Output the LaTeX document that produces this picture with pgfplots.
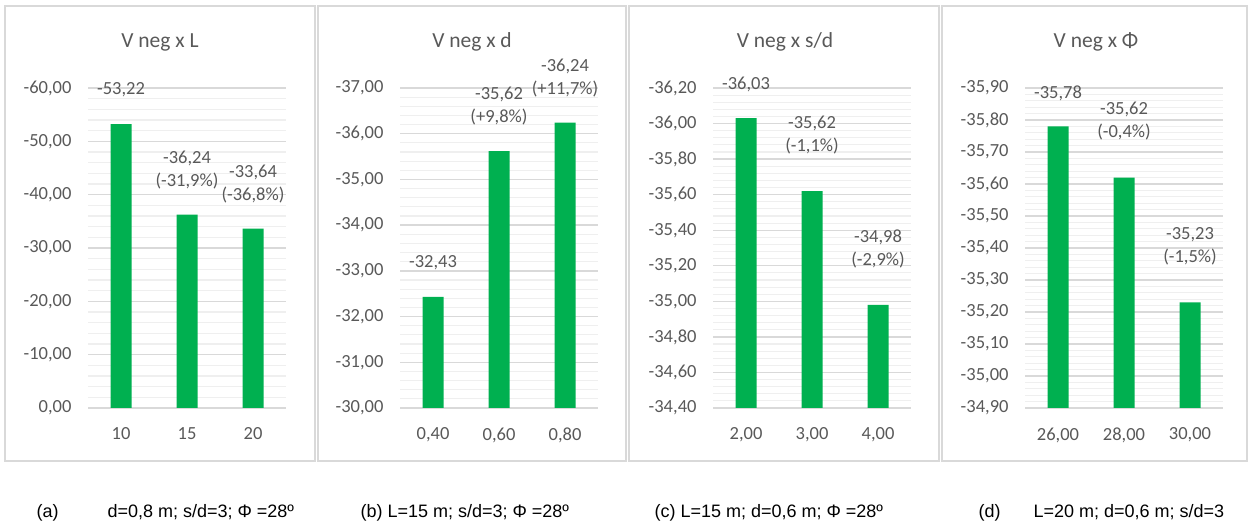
\documentclass[border=0pt]{standalone}
\usepackage{pgfplots}
\pgfplotsset{compat=1.18}
\usepackage{fontspec}
\setmainfont{Carlito}
\newfontfamily\arialfont{Liberation Sans}
\definecolor{bargreen}{HTML}{00B050}
\definecolor{txtgray}{HTML}{595959}
\definecolor{gmaj}{HTML}{D9D9D9}
\definecolor{gmin}{HTML}{EFEFEF}
\definecolor{framec}{HTML}{D9D9D9}
\newcommand{\lblfont}{\fontsize{18.5bp}{23bp}\selectfont}
\newcommand{\ttlfont}{\fontsize{21.5bp}{26bp}\selectfont}
\newcommand{\capfont}{\arialfont\fontsize{18bp}{22bp}\selectfont}
\pgfplotsset{panel/.style={
  scale only axis, width=198bp, height=320bp, anchor=south west,
  ybar, bar width=21bp, y dir=reverse,
  xmin=-0.5, xmax=2.5, xtick={0,1,2},
  axis line style={draw=none}, tick style={draw=none},
  ymajorgrids, yminorgrids, minor y tick num=4,
  major grid style={draw=gmaj, line width=1.3bp},
  minor grid style={draw=gmin, line width=1.1bp},
  clip mode=individual,
  tick label style={font=\lblfont, text=txtgray},
  yticklabel style={/pgf/number format/fixed, /pgf/number format/fixed zerofill,
    /pgf/number format/precision=2, /pgf/number format/use comma,
    /pgf/number format/assume math mode=true, xshift=-13bp},
  xticklabel style={yshift=-12bp},
}}
\begin{document}
\begin{tikzpicture}[x=1bp,y=1bp]
\fill[white] (0,0) rectangle (1248,525);
% panel frames
\draw[framec, line width=1.6bp] (5,64) rectangle (315,519);
\draw[framec, line width=1.6bp] (318,64) rectangle (626,519);
\draw[framec, line width=1.6bp] (629,64) rectangle (939,519);
\draw[framec, line width=1.6bp] (942,64) rectangle (1247,519);
% titles
\node[text=txtgray, font=\ttlfont] at (160,483) {V neg x L};
\node[text=txtgray, font=\ttlfont] at (472,483) {V neg x d};
\node[text=txtgray, font=\ttlfont] at (785,483) {V neg x s/d};
\node[text=txtgray, font=\ttlfont] at (1096,483) {V neg x Φ};

% panel a
\begin{axis}[panel, at={(88bp,117bp)}, ymin=-60, ymax=0, ytick distance=10,
  xticklabels={10,15,20}]
\addplot[fill=bargreen, draw=none] coordinates {(0,-53.22) (1,-36.24) (2,-33.64)};
\node[text=txtgray, font=\lblfont, align=center] at (axis cs:0,-59.63) {-53,22};
\node[text=txtgray, font=\lblfont, align=center] at (axis cs:1,-44.53) {-36,24\\(-31,9\%)};
\node[text=txtgray, font=\lblfont, align=center] at (axis cs:2,-42.0) {-33,64\\(-36,8\%)};
\end{axis}

% panel b
\begin{axis}[panel, at={(400bp,117bp)}, ymin=-37, ymax=-30, ytick distance=1,
  xticklabels={{0,40},{0,60},{0,80}}]
\addplot[fill=bargreen, draw=none] coordinates {(0,-32.43) (1,-35.62) (2,-36.24)};
\node[text=txtgray, font=\lblfont, align=center] at (axis cs:0,-33.17) {-32,43};
\node[text=txtgray, font=\lblfont, align=center] at (axis cs:1,-36.595) {-35,62\\(+9,8\%)};
\node[text=txtgray, font=\lblfont, align=center] at (axis cs:2,-37.219) {-36,24\\(+11,7\%)};
\end{axis}

% panel c
\begin{axis}[panel, at={(713bp,117bp)}, ymin=-36.2, ymax=-34.4, ytick distance=0.2,
  xticklabels={{2,00},{3,00},{4,00}}]
\addplot[fill=bargreen, draw=none] coordinates {(0,-36.03) (1,-35.62) (2,-34.98)};
\node[text=txtgray, font=\lblfont, align=center] at (axis cs:0,-36.222) {-36,03};
\node[text=txtgray, font=\lblfont, align=center] at (axis cs:1,-35.938) {-35,62\\(-1,1\%)};
\node[text=txtgray, font=\lblfont, align=center] at (axis cs:2,-35.297) {-34,98\\(-2,9\%)};
\end{axis}

% panel d
\begin{axis}[panel, at={(1025bp,117bp)}, ymin=-35.9, ymax=-34.9, ytick distance=0.1,
  xticklabels={{26,00},{28,00},{30,00}}]
\addplot[fill=bargreen, draw=none] coordinates {(0,-35.78) (1,-35.62) (2,-35.23)};
\node[text=txtgray, font=\lblfont, align=center] at (axis cs:0,-35.884) {-35,78};
\node[text=txtgray, font=\lblfont, align=center] at (axis cs:1,-35.797) {-35,62\\(-0,4\%)};
\node[text=txtgray, font=\lblfont, align=center] at (axis cs:2,-35.405) {-35,23\\(-1,5\%)};
\end{axis}

% captions
\node[anchor=base west, font=\capfont] at (33,7) {(a)};
\node[anchor=base west, font=\capfont] at (104,7) {d=0,8 m; s/d=3; Φ =28º};
\node[anchor=base west, font=\capfont] at (357,7) {(b) L=15 m; s/d=3; Φ =28º};
\node[anchor=base west, font=\capfont] at (651,7) {(c) L=15 m; d=0,6 m; Φ =28º};
\node[anchor=base west, font=\capfont] at (975,7) {(d)};
\node[anchor=base west, font=\capfont] at (1030,7) {L=20 m; d=0,6 m; s/d=3};
\end{tikzpicture}
\end{document}
